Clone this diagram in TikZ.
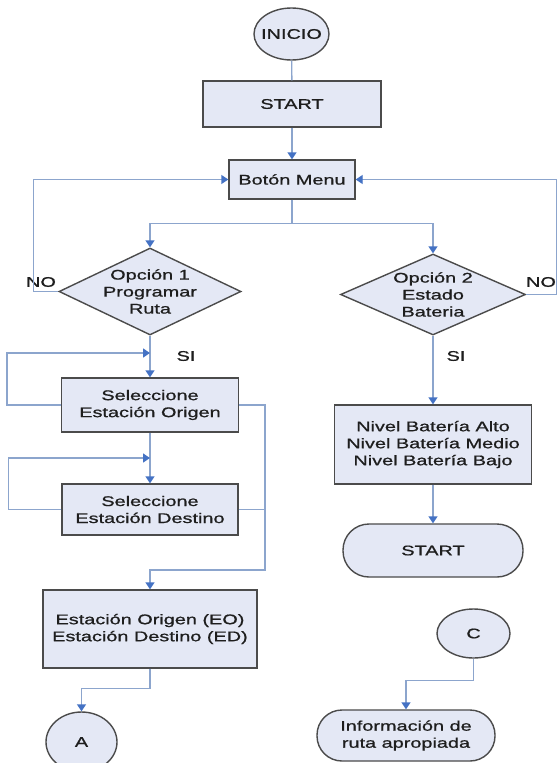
\documentclass[tikz,border=0pt]{standalone}
\usepackage{fontspec}
\setmainfont{Liberation Sans}[FakeStretch=1.42,FakeBold=0.9]
\usetikzlibrary{shapes.geometric,arrows.meta}
\definecolor{boxfill}{RGB}{228,232,245}
\definecolor{boxdraw}{RGB}{75,75,75}
\definecolor{linec}{RGB}{140,165,205}
\definecolor{tipc}{RGB}{68,114,196}
\definecolor{txt}{RGB}{30,30,30}
\tikzset{
  txtfont/.style={font=\fontsize{14}{17}\selectfont, text=txt},
  box/.style={draw=boxdraw, fill=boxfill, line width=1.4pt, inner sep=0pt, align=center, txtfont},
  lbl/.style={inner sep=0pt, align=center, txtfont},
  conn/.style={draw=linec, line width=1.4pt},
  arr/.style={conn, -{Triangle[length=7pt,width=9pt,color=tipc]}}
}
\begin{document}
\begin{tikzpicture}[x=1pt,y=-1pt]
\useasboundingbox (0,0) rectangle (558,763);
\fill[white] (0,0) rectangle (558,763);

% nodes
\node[box, ellipse, minimum width=75pt, minimum height=52pt, label={[lbl]center:INICIO}] (inicio) at (291.5,34) {};
\node[box, minimum width=178pt, minimum height=46pt] (start1) at (292,104) {START};
\node[box, minimum width=126pt, minimum height=39pt] (menu) at (292,179.5) {Botón Menu};
\node[box, diamond, minimum width=182pt, minimum height=87pt, label={[lbl]center:{Opción 1\\Programar\\Ruta}}] (d1) at (150,291.5) {};
\node[box, diamond, minimum width=185pt, minimum height=81pt, label={[lbl]center:{Opción 2\\Estado\\Bateria}}] (d2) at (433,294.5) {};
\node[box, minimum width=177pt, minimum height=54pt] (orig) at (150,405) {Seleccione\\Estación Origen};
\node[box, minimum width=176pt, minimum height=51pt] (dest) at (150,509.5) {Seleccione\\Estación Destino};
\node[box, minimum width=214pt, minimum height=78pt] (eo) at (150,629) {Estación Origen (EO)\\Estación Destino (ED)};
\node[box, ellipse, minimum width=71pt, minimum height=60pt, label={[lbl]center:A}] (a) at (81.5,742) {};
\node[box, minimum width=197pt, minimum height=79pt] (nivel) at (433,444.5) {Nivel Batería Alto\\Nivel Batería Medio\\Nivel Batería Bajo};
\node[box, rounded corners=26pt, minimum width=180pt, minimum height=53pt] (start2) at (433,550.5) {START};
\node[box, ellipse, minimum width=73pt, minimum height=49pt, label={[lbl]center:C}] (c) at (473.5,633.5) {};
\node[box, rounded corners=25pt, minimum width=178pt, minimum height=51pt] (info) at (406,735.5) {Información de\\ruta apropiada};

% labels
\node[lbl] (no1) at (41,282) {NO};
\node[lbl] (no2) at (541,282) {NO};
\node[lbl] (si1) at (186,356) {SI};
\node[lbl] (si2) at (456,356) {SI};

% helper coordinates
\coordinate (j1) at (150,353);
\coordinate (j2) at (150,458);
\coordinate (rail) at (265,570);

% connectors
\draw[conn] (inicio) -- (start1);
\draw[arr] (start1) -- (menu);
\draw[arr] (d1.west) -- ++(-25,0) |- (menu.west);
\draw[arr] (d2.east) -- ++(30,0) |- (menu.east);
\draw[arr] (menu.south) -- ++(0,23.5) coordinate (split) -| (d1.north);
\draw[arr] (split) -| (d2.north);
\draw[arr] (d1.south) -- (orig.north);
\draw[arr] (orig.west) -- ++(-54,0) |- (j1);
\draw[arr] (orig.south) -- (dest.north);
\draw[arr] (dest.west) -- ++(-53,0) |- (j2);
\draw[arr] (orig.east) -| (rail) -| (eo.north);
\draw[conn] (dest.east) -- (dest.east -| rail);
\draw[arr] (eo.south) -- ++(0,20) -| (a.north);
\draw[arr] (d2.south) -- (nivel.north);
\draw[arr] (nivel.south) -- (start2.north);
\draw[arr] (c.south) -- ++(0,22) -| (info.north);
\end{tikzpicture}
\end{document}
